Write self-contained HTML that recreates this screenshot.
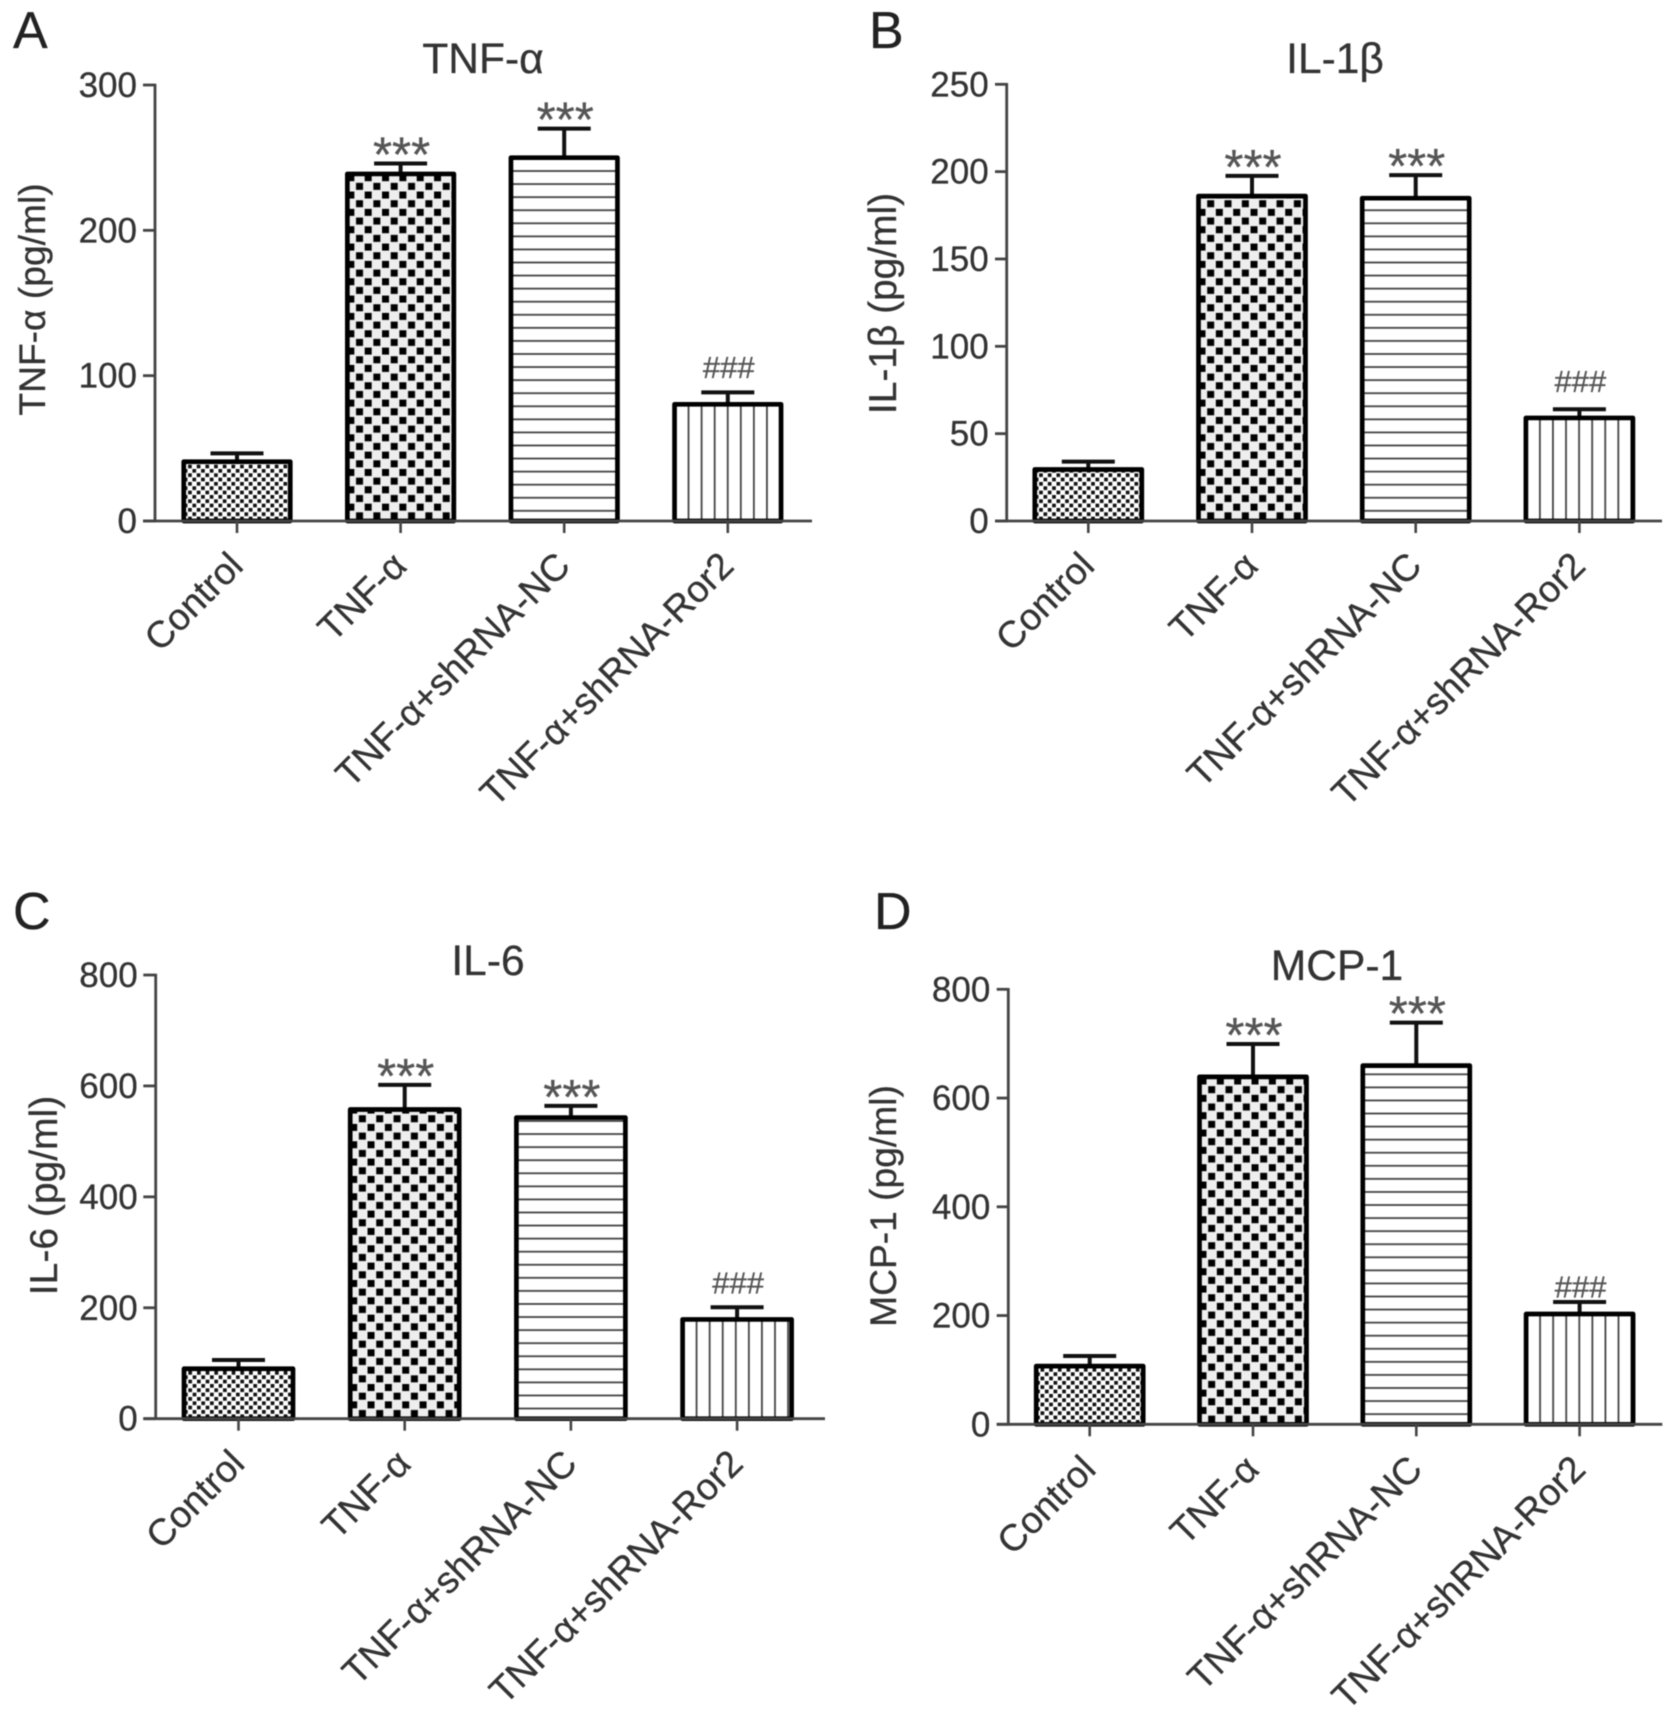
<!DOCTYPE html>
<html lang="en">
<head>
<meta charset="utf-8">
<title>Cytokine levels by treatment group</title>
<style>
  html, body { margin: 0; padding: 0; background: #fff; }
  #figure { display: block; width: 1677px; height: 1716px; filter: blur(0.55px); }
  text { font-family: "Liberation Sans", "DejaVu Sans", sans-serif; fill: #333; stroke: #333; stroke-width: 0.3px; }
</style>
</head>
<body>
<svg id="figure" xmlns="http://www.w3.org/2000/svg" width="1677" height="1716" viewBox="0 0 1677 1716">
  <defs>
    <pattern id="fine-check" patternUnits="userSpaceOnUse" width="8.67" height="8.67">
      <rect width="8.67" height="8.67" fill="#fff"/>
      <rect x="0" y="0" width="3.7" height="3.7" fill="#111"/>
      <rect x="4.33" y="4.33" width="3.7" height="3.7" fill="#111"/>
    </pattern>
    <pattern id="coarse-check" patternUnits="userSpaceOnUse" width="17.34" height="17.34">
      <rect width="17.34" height="17.34" fill="#eee"/>
      <rect x="0" y="0" width="7" height="7" fill="#000"/>
      <rect x="8.67" y="8.67" width="7" height="7" fill="#000"/>
    </pattern>
    <pattern id="horizontal-lines" patternUnits="userSpaceOnUse" width="13.07" height="13.07">
      <rect width="13.07" height="13.07" fill="#fff"/>
      <rect x="0" y="2" width="13.07" height="1.8" fill="#444"/>
    </pattern>
    <pattern id="vertical-lines" patternUnits="userSpaceOnUse" width="13.07" height="13.07">
      <rect width="13.07" height="13.07" fill="#fff"/>
      <rect x="0" y="0" width="1.8" height="13.07" fill="#444"/>
    </pattern>
  </defs>
</svg>
<script>
const categories = ["Control", "TNF-α", "TNF-α+shRNA-NC", "TNF-α+shRNA-Ror2"];
const significance = ["", "***", "***", "###"];

const tnfValues = [40.8, 238.8, 250, 80.3];
const tnfErrors = [5.7, 7.2, 20, 8.2];
const tnfTicks = [0, 100, 200, 300];

const il1Values = [29.5, 186, 184.8, 59];
const il1Errors = [4.5, 11.6, 13.2, 5];
const il1Ticks = [0, 50, 100, 150, 200, 250];

const il6Values = [90, 557.5, 543, 179];
const il6Errors = [15.9, 44.5, 21, 22];
const il6Ticks = [0, 200, 400, 600, 800];

const mcpValues = [107, 639, 659.6, 202.8];
const mcpErrors = [18.6, 60.5, 79.1, 22.2];
const mcpTicks = [0, 200, 400, 600, 800];

const fills = ["fine-check", "coarse-check", "horizontal-lines", "vertical-lines"];

const panels = [
  { key: "a", letter: "A", letterX: 13, letterY: 48, title: "TNF-α", titleX: 483, titleY: 73,
    yTitle: "TNF-α (pg/ml)", yTitleX: 45, yTitleY: 299.5, yTitleSize: 37.2,
    axisX: 155, base: 521, top: 85, yMax: 300, tickLeft: 143, axisEnd: 812,
    first: 237, step: 163.6, barW: 106.5, hashGap: 25,
    values: tnfValues, errors: tnfErrors, ticks: tnfTicks },
  { key: "b", letter: "B", letterX: 869, letterY: 48, title: "IL-1β", titleX: 1335, titleY: 73,
    yTitle: "IL-1β (pg/ml)", yTitleX: 896, yTitleY: 303.5, yTitleSize: 38.9,
    axisX: 1006.7, base: 521, top: 84.3, yMax: 250, tickLeft: 995, axisEnd: 1662,
    first: 1088.3, step: 163.7, barW: 107, hashGap: 27.5,
    values: il1Values, errors: il1Errors, ticks: il1Ticks },
  { key: "c", letter: "C", letterX: 13, letterY: 929, title: "IL-6", titleX: 488, titleY: 975,
    yTitle: "IL-6 (pg/ml)", yTitleX: 57, yTitleY: 1195.5, yTitleSize: 39,
    axisX: 155.7, base: 1418.7, top: 975, yMax: 800, tickLeft: 143.3, axisEnd: 825,
    first: 238.5, step: 166.2, barW: 109, hashGap: 24,
    values: il6Values, errors: il6Errors, ticks: il6Ticks },
  { key: "d", letter: "D", letterX: 874, letterY: 929, title: "MCP-1", titleX: 1337, titleY: 980,
    yTitle: "MCP-1 (pg/ml)", yTitleX: 896, yTitleY: 1206, yTitleSize: 37.2,
    axisX: 1008.3, base: 1424.3, top: 989.3, yMax: 800, tickLeft: 996.7, axisEnd: 1662.3,
    first: 1089.7, step: 163.3, barW: 107, hashGap: 15,
    values: mcpValues, errors: mcpErrors, ticks: mcpTicks }
];

const NS = "http://www.w3.org/2000/svg";
const root = document.getElementById("figure");

function make(tag, attrs, parent, content) {
  const node = document.createElementNS(NS, tag);
  Object.keys(attrs).forEach(function (k) { node.setAttribute(k, attrs[k]); });
  if (content !== undefined) node.textContent = content;
  parent.appendChild(node);
  return node;
}

function slug(s) {
  return s.toLowerCase().replace(/α/g, "alpha").replace(/β/g, "beta").replace(/[^a-z0-9]+/g, "-");
}

panels.forEach(function (p) {
  const yScale = function (v) { return p.base - (v / p.yMax) * (p.base - p.top); };
  const xScale = function (i) { return p.first + i * p.step; };

  const group = make("g", {}, root);
  
  

  const letter = make("text", { x: p.letterX, y: p.letterY, "font-size": 52, style: "fill:#222;stroke:#222" }, group, p.letter);
  
  

  const title = make("text", { x: p.titleX, y: p.titleY, "font-size": 42.5, "text-anchor": "middle" }, group, p.title);
  
  

  const yTitle = make("text", {
    x: 0, y: 0, "font-size": p.yTitleSize, "text-anchor": "middle",
    transform: "translate(" + p.yTitleX + "," + p.yTitleY + ") rotate(-90)"
  }, group, p.yTitle);
  
  

  p.values.forEach(function (v, i) {
    const cx = xScale(i);
    const topY = yScale(v);
    const capY = yScale(v + p.errors[i]);

    const stem = make("line", { x1: cx, x2: cx, y1: topY, y2: capY, stroke: "#111", "stroke-width": 4 }, group);
    
    

    const cap = make("line", { x1: cx - 26.5, x2: cx + 26.5, y1: capY, y2: capY, stroke: "#111", "stroke-width": 4 }, group);
    
    

    const barGroup = make("g", { transform: "translate(" + (cx - p.barW / 2) + "," + p.base + ")" }, group);
    const bar = make("rect", {
      x: 0, y: topY - p.base, width: p.barW, height: p.base - topY,
      fill: "url(#" + fills[i] + ")", stroke: "#000", "stroke-width": 4.7, "stroke-linejoin": "round"
    }, barGroup);
    
    

    const mark = significance[i];
    if (mark) {
      const isHash = mark.charAt(0) === "#";
      const centre = capY - (isHash ? p.hashGap : 14.5);
      const sig = make("text", {
        x: cx + 1, y: centre + (isHash ? 10.5 : 22.5),
        "font-size": isHash ? 31 : 49, "text-anchor": "middle", style: "fill:#555;stroke:#555"
      }, group, mark);
      
      
    }

    const tick = make("line", { x1: cx, x2: cx, y1: p.base, y2: p.base + 12, stroke: "#444", "stroke-width": 2.6 }, group);
    
    

    const label = make("text", {
      x: 0, y: 0, "font-size": 37.3, "text-anchor": "end",
      transform: "translate(" + (cx + 8) + "," + (p.base + 47) + ") rotate(-45)"
    }, group, categories[i]);
    
    
  });

  const yAxis = make("line", { x1: p.axisX, x2: p.axisX, y1: p.top - 1.3, y2: p.base + 1.3, stroke: "#444", "stroke-width": 2.8 }, group);
  
  

  const xAxis = make("line", { x1: p.tickLeft, x2: p.axisEnd, y1: p.base, y2: p.base, stroke: "#444", "stroke-width": 2.8 }, group);
  
  

  p.ticks.forEach(function (t) {
    const y = yScale(t);
    const tick = make("line", { x1: p.tickLeft, x2: p.axisX, y1: y, y2: y, stroke: "#444", "stroke-width": 2.8 }, group);
    
    

    const label = make("text", { x: p.axisX - 18, y: y + 12, "font-size": 35, "text-anchor": "end" }, group, String(t));
    
    
  });
});
</script>
</body>
</html>
